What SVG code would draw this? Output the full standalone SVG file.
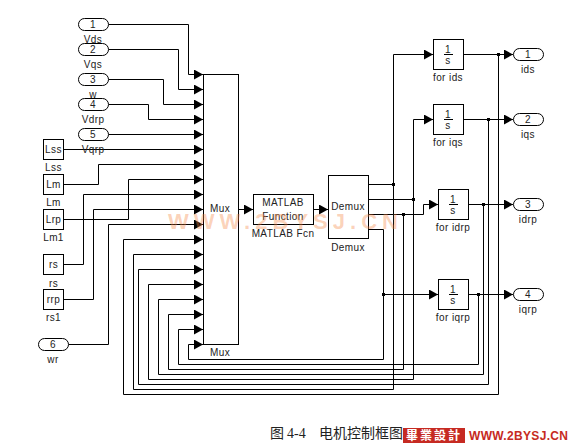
<svg xmlns="http://www.w3.org/2000/svg" width="574" height="443" viewBox="0 0 574 443">
<style>
.b{fill:#fff;stroke:#000;stroke-width:1}
.n{fill:none;stroke:#000;stroke-width:1}
.t{font-family:"Liberation Sans",Arial,sans-serif;font-size:10px;fill:#222;text-anchor:middle;letter-spacing:.4px}
.c path{fill:none;stroke:#000;stroke-width:1}
.a{marker-end:url(#ah)}
.d{fill:#000}
</style>
<defs>
<marker id="ah" markerUnits="userSpaceOnUse" markerWidth="9" markerHeight="10" refX="9" refY="5" orient="auto"><path d="M0 0L9 5L0 10z" fill="#000"/></marker>
</defs>
<rect width="574" height="443" fill="#fff"/>
<g class="c" id="connectors">
<path class="a" d="M108.500 24.500H188.500V74.500H203"/>
<path class="a" d="M108.500 49.500H178.500V89.500H203"/>
<path class="a" d="M108.500 79.500H163.500V104.500H203"/>
<path class="a" d="M108.500 104.500H148.500V119.500H203"/>
<path class="a" d="M108.500 134.500H203"/>
<path class="a" d="M63.500 149.500H203"/>
<path class="a" d="M63.500 184.500H98.500V164.500H203"/>
<path class="a" d="M63.500 219.500H128.500V179.500H203"/>
<path class="a" d="M63.500 264.500H83.500V194.500H203"/>
<path class="a" d="M63.500 299.500H93.500V209.500H203"/>
<path class="a" d="M68.500 344.500H108.500V224.500H203"/>
<path class="a" d="M498.500 54.500V394.500H123.500V239.500H203"/>
<path class="a" d="M393.500 184.500V389.500H133.500V254.500H203"/>
<path class="a" d="M488.500 119.500V384.500H138.500V269.500H203"/>
<path class="a" d="M413.500 199.500V379.500H148.500V284.500H203"/>
<path class="a" d="M483.500 204.500V374.500H158.500V299.500H203"/>
<path class="a" d="M403.500 214.500V369.500H168.500V314.500H203"/>
<path class="a" d="M478.500 294.500V364.500H178.500V329.500H203"/>
<path class="a" d="M383.500 294.500V359.500H188.500V344.500H203"/>
<path class="a" d="M238.500 209.500H253"/>
<path class="a" d="M313.500 209.500H328"/>
<path class="a" d="M368.500 184.500H393.500V54.500H433"/>
<path class="a" d="M368.500 199.500H413.500V119.500H433"/>
<path class="a" d="M368.500 214.500H423.500V204.500H438"/>
<path class="a" d="M368.500 229.500H383.500V294.500H438"/>
<path class="a" d="M463.500 54.500H513"/>
<path class="a" d="M463.500 119.500H513"/>
<path class="a" d="M468.500 204.500H513"/>
<path class="a" d="M468.500 294.500H513"/>
<rect class="d" x="392" y="183" width="3" height="3"/>
<rect class="d" x="412" y="198" width="3" height="3"/>
<rect class="d" x="402" y="213" width="3" height="3"/>
<rect class="d" x="382" y="293" width="3" height="3"/>
<rect class="d" x="497" y="53" width="3" height="3"/>
<rect class="d" x="487" y="118" width="3" height="3"/>
<rect class="d" x="482" y="203" width="3" height="3"/>
<rect class="d" x="477" y="293" width="3" height="3"/>
</g>
<g id="in1"><rect class="b" x="78.500" y="18.500" width="30" height="12" rx="6"/><text class="t" x="93" y="28">1</text><text class="t" x="93" y="43">Vds</text></g>
<g id="in2"><rect class="b" x="78.500" y="43.500" width="30" height="12" rx="6"/><text class="t" x="93" y="53">2</text><text class="t" x="93" y="68">Vqs</text></g>
<g id="in3"><text class="t" x="93" y="98">w</text><rect class="b" x="78.500" y="73.500" width="30" height="12" rx="6"/><text class="t" x="93" y="83">3</text></g>
<g id="in4"><rect class="b" x="78.500" y="98.500" width="30" height="12" rx="6"/><text class="t" x="93" y="108">4</text><text class="t" x="93" y="123">Vdrp</text></g>
<g id="in5"><rect class="b" x="78.500" y="128.500" width="30" height="12" rx="6"/><text class="t" x="93" y="138">5</text><text class="t" x="93" y="153">Vqrp</text></g>
<g id="in6"><rect class="b" x="38.500" y="338.500" width="30" height="12" rx="6"/><text class="t" x="53" y="348">6</text><text class="t" x="53" y="363">wr</text></g>
<g id="lss"><rect class="b" x="43.500" y="139.500" width="20" height="20"/><text class="t" x="53.500" y="153">Lss</text><text class="t" x="53.500" y="171">Lss</text></g>
<g id="lm"><rect class="b" x="43.500" y="174.500" width="20" height="20"/><text class="t" x="53.500" y="188">Lm</text><text class="t" x="53.500" y="206">Lm</text></g>
<g id="lrp"><rect class="b" x="43.500" y="209.500" width="20" height="20"/><text class="t" x="53.500" y="223">Lrp</text><text class="t" x="53.500" y="241">Lm1</text></g>
<g id="rs"><rect class="b" x="43.500" y="254.500" width="20" height="20"/><text class="t" x="53.500" y="268">rs</text><text class="t" x="53.500" y="287">rs</text></g>
<g id="rrp"><rect class="b" x="43.500" y="289.500" width="20" height="20"/><text class="t" x="53.500" y="303">rrp</text><text class="t" x="53.500" y="321">rs1</text></g>
<g id="mux"><rect class="n" x="203.500" y="74.500" width="35" height="270"/><text class="t" x="220" y="212">Mux</text><text class="t" x="220" y="356">Mux</text></g>
<g id="fcn"><rect class="n" x="253.500" y="194.500" width="60" height="30"/><text class="t" x="283" y="206">MATLAB</text><text class="t" x="283" y="220">Function</text><text class="t" x="283" y="237">MATLAB Fcn</text></g>
<g id="demux"><rect class="n" x="328.500" y="175.500" width="40" height="63"/><text class="t" x="348" y="210">Demux</text><text class="t" x="348" y="251">Demux</text></g>
<g id="int1"><rect class="b" x="433.500" y="39.500" width="30" height="30"/><text class="t" x="448" y="53">1</text><path d="M444 54.500H453" stroke="#000"/><text class="t" x="448" y="64">s</text><text class="t" x="448" y="81">for ids</text></g>
<g id="int2"><rect class="b" x="433.500" y="104.500" width="30" height="30"/><text class="t" x="448" y="118">1</text><path d="M444 119.500H453" stroke="#000"/><text class="t" x="448" y="129">s</text><text class="t" x="448" y="146">for iqs</text></g>
<g id="int3"><rect class="b" x="438.500" y="189.500" width="30" height="30"/><text class="t" x="453" y="203">1</text><path d="M449 204.500H458" stroke="#000"/><text class="t" x="453" y="214">s</text><text class="t" x="453" y="231">for idrp</text></g>
<g id="int4"><rect class="b" x="438.500" y="279.500" width="30" height="30"/><text class="t" x="453" y="293">1</text><path d="M449 294.500H458" stroke="#000"/><text class="t" x="453" y="304">s</text><text class="t" x="453" y="321">for iqrp</text></g>
<g id="out1"><rect class="b" x="513.500" y="48.500" width="30" height="12" rx="6"/><text class="t" x="528" y="58">1</text><text class="t" x="528" y="73">ids</text></g>
<g id="out2"><rect class="b" x="513.500" y="113.500" width="30" height="12" rx="6"/><text class="t" x="528" y="123">2</text><text class="t" x="528" y="138">iqs</text></g>
<g id="out3"><rect class="b" x="513.500" y="198.500" width="30" height="12" rx="6"/><text class="t" x="528" y="208">3</text><text class="t" x="528" y="223">idrp</text></g>
<g id="out4"><rect class="b" x="513.500" y="288.500" width="30" height="12" rx="6"/><text class="t" x="528" y="298">4</text><text class="t" x="528" y="313">iqrp</text></g>
<text x="283" y="229" font-family="'Liberation Sans',Arial,sans-serif" font-size="22" font-weight="bold" fill="#f58a4a" fill-opacity=".38" text-anchor="middle" textLength="230">WWW.2BYSJ.CN</text>
<text x="270" y="438" font-family="'Noto Sans CJK SC',sans-serif" font-size="14" fill="#222">图</text>
<text x="287" y="438" font-family="'Liberation Serif',serif" font-size="14" fill="#222">4-4</text>
<text x="319" y="438" font-family="'Noto Sans CJK SC',sans-serif" font-size="14" fill="#222">电机控制框图</text>
<rect x="403" y="428" width="62" height="15" fill="#c62a22"/>
<text x="434" y="440" font-family="'Noto Sans CJK TC',sans-serif" font-size="12" font-weight="bold" fill="#fff" text-anchor="middle" letter-spacing="2">畢業設計</text>
<text x="469" y="440" font-family="'Liberation Sans',Arial,sans-serif" font-size="12" font-weight="bold" fill="#c62a22" textLength="99">WWW.2BYSJ.CN</text>
</svg>
